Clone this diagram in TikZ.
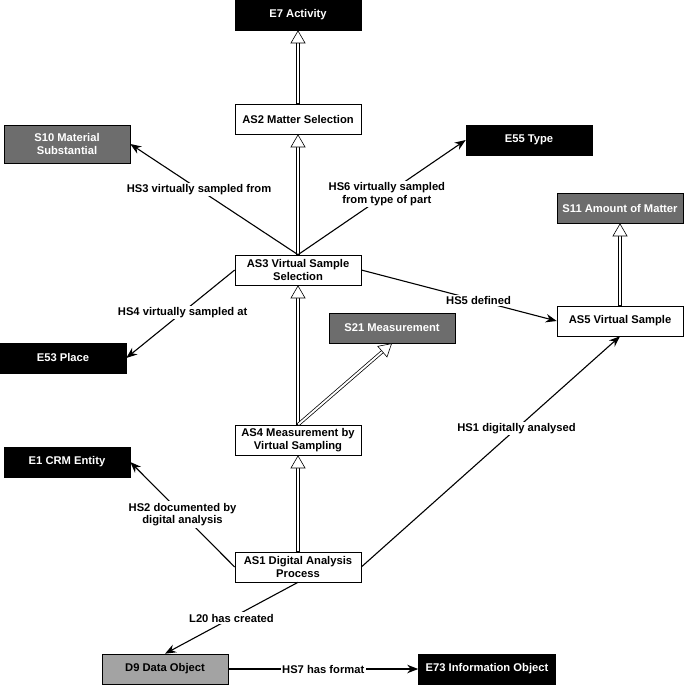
\documentclass[tikz,border=0pt]{standalone}
\usepackage{fontspec}
\setmainfont{Liberation Sans}
\usetikzlibrary{arrows.meta,positioning}
\definecolor{MidGray}{HTML}{6D6D6D}
\definecolor{PaleGray}{HTML}{A3A3A3}

\begin{document}
\begin{tikzpicture}[
    x=1pt, y=-1pt,
    box/.style={draw, line width=0.6pt, fill=white, minimum width=126pt, minimum height=30pt,
                inner sep=1pt, align=center, font=\fontsize{11.2}{12.6}\selectfont\bfseries},
    blackbox/.style={box, fill=black, text=white},
    graybox/.style={box, fill=MidGray, text=white},
    palebox/.style={box, fill=PaleGray},
    lbl/.style={fill=white, inner sep=1.5pt, align=center, font=\fontsize{11.2}{12.6}\selectfont\bfseries},
    rel/.style={line width=1.1pt, -{Stealth[length=11pt,width=8.5pt]}},
    isa/.style={draw=white, line width=0.6pt, shorten <=0.4pt,
                -{Triangle[length=13pt,width=15pt,color=black,fill=white]},
                preaction={draw=black, -, line width=3.4pt, shorten >=11pt, shorten <=0pt},
                preaction={draw=white, -, line width=1.9pt, shorten >=11pt, shorten <=0.4pt}}
  ]
    \useasboundingbox (0,0) rectangle (685,685);

    \node[blackbox] (e7)  at (298,15)  {E7 Activity};
    \node[box]      (as2) at (298,119) {AS2 Matter Selection};
    \node[graybox, minimum height=38pt] (s10) at (67,144) {S10 Material\\Substantial};
    \node[blackbox] (e55) at (529,140) {E55 Type};
    \node[graybox]  (s11) at (620,208) {S11 Amount of Matter};
    \node[box]      (as3) at (298,270) {AS3 Virtual Sample\\Selection};
    \node[box]      (as5) at (620,321) {AS5 Virtual Sample};
    \node[graybox]  (s21) at (392,328) {S21 Measurement};
    \node[blackbox] (e53) at (63,358)  {E53 Place};
    \node[box]      (as4) at (298,440) {AS4 Measurement by\\Virtual Sampling};
    \node[blackbox] (e1)  at (67,462)  {E1 CRM Entity};
    \node[box]      (as1) at (298,567) {AS1 Digital Analysis\\Process};
    \node[palebox]  (d9)  at (165,669) {D9 Data Object};
    \node[blackbox, minimum width=137pt] (e73) at (487,669) {E73 Information Object};

    \draw[isa] (as2.north) -- (e7.south);
    \draw[isa] (as3.north) -- (as2.south);
    \draw[isa] (as4.north) -- (as3.south);
    \draw[isa] (as4.north) -- (s21.south);
    \draw[isa] (as1.north) -- (as4.south);
    \draw[isa] (as5.north) -- (s11.south);

    \draw[rel] (as3.north) -- node[lbl, pos=0.59] (hs3) {HS3 virtually sampled from} (s10.east);
    \draw[rel] (as3.north) -- node[lbl, pos=0.53] (hs6) {HS6 virtually sampled\\from type of part} (e55.west);
    \draw[rel] (as3.west) -- node[lbl, pos=0.48] (hs4) {HS4 virtually sampled at} (e53.east);
    \draw[rel] (as3.east) -- node[lbl, pos=0.6] (hs5) {HS5 defined} (as5.west);
    \draw[rel] (as1.east) -- node[lbl, pos=0.6] (hs1) {HS1 digitally analysed} (as5.south);
    \draw[rel] (as1.west) -- node[lbl, pos=0.5] (hs2) {HS2 documented by\\digital analysis} (e1.east);
    \draw[rel] (as1.south) -- node[lbl, pos=0.5] (l20) {L20 has created} (d9.north);
    \draw[rel] (d9.east) -- node[lbl, pos=0.5] (hs7) {HS7 has format} (e73.west);
\end{tikzpicture}
\end{document}
